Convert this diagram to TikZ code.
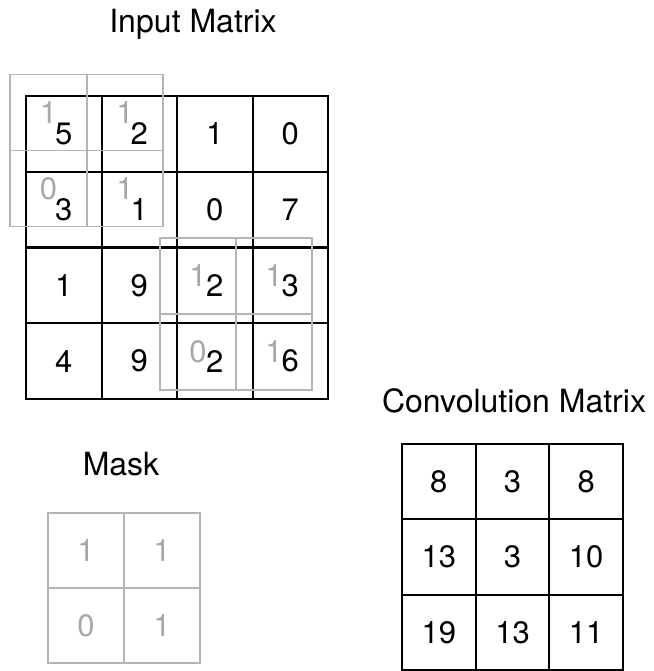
\documentclass[tikz,border=0pt]{standalone}
\usepackage{fontspec}
\setmainfont{TeX Gyre Heros}
\definecolor{maskgray}{HTML}{B5B5B5}
\definecolor{digitgray}{HTML}{A8A8A8}
\begin{document}
\begin{tikzpicture}[x=1pt,y=-1pt,
  digits/.style={font=\fontsize{31}{31}\selectfont},
  cell/.style={draw=black, line width=2pt, minimum width=75.5pt, minimum height=75.75pt, inner sep=0pt, digits, text=black},
  ccell/.style={draw=black, line width=2pt, minimum width=73.7pt, minimum height=75.3pt, inner sep=0pt, digits, text=black},
  wcell/.style={draw=maskgray, line width=1.9pt, minimum width=76.5pt, minimum height=76pt, inner sep=0pt, digits, text=digitgray},
  mcell/.style={draw=maskgray, line width=1.9pt, minimum width=76pt, minimum height=75pt, inner sep=0pt, digits, text=digitgray},
  title/.style={anchor=base, inner sep=0pt, font=\fontsize{32}{32}\selectfont}]
\useasboundingbox (0,0) rectangle (653,671);

% titles
\node[title] (tin) at (193,33) {Input Matrix};
\node[title] (tconv) at (514,412) {Convolution Matrix};
\node[title] (tmask) at (121,475) {Mask};

% input matrix
\node[cell] (a11) at (63.75,133.9) {5};
\node[cell] (a12) at (139.25,133.9) {2};
\node[cell] (a13) at (214.75,133.9) {1};
\node[cell] (a14) at (290.25,133.9) {0};
\node[cell] (a21) at (63.75,209.6) {3};
\node[cell] (a22) at (139.25,209.6) {1};
\node[cell] (a23) at (214.75,209.6) {0};
\node[cell] (a24) at (290.25,209.6) {7};
\node[cell] (a31) at (63.75,285.4) {1};
\node[cell] (a32) at (139.25,285.4) {9};
\node[cell] (a33) at (214.75,285.4) {2};
\node[cell] (a34) at (290.25,285.4) {3};
\node[cell] (a41) at (63.75,361.1) {4};
\node[cell] (a42) at (139.25,361.1) {9};
\node[cell] (a43) at (214.75,361.1) {2};
\node[cell] (a44) at (290.25,361.1) {6};

% top-left window
\node[wcell] (w11) at (48.5,112.5) {1};
\node[wcell] (w12) at (125,112.5) {1};
\node[wcell] (w21) at (48.5,188.5) {0};
\node[wcell] (w22) at (125,188.5) {1};

% bottom-right window
\node[wcell] (v11) at (198,276) {1};
\node[wcell] (v12) at (274,276) {1};
\node[wcell] (v21) at (198,352) {0};
\node[wcell] (v22) at (274,352) {1};

% mask
\node[mcell] (m11) at (86,550.5) {1};
\node[mcell] (m12) at (162,550.5) {1};
\node[mcell] (m21) at (86,625.5) {0};
\node[mcell] (m22) at (162,625.5) {1};

% convolution matrix
\node[ccell] (c11) at (438.8,481.7) {8};
\node[ccell] (c12) at (512.5,481.7) {3};
\node[ccell] (c13) at (586.2,481.7) {8};
\node[ccell] (c21) at (438.8,557) {13};
\node[ccell] (c22) at (512.5,557) {3};
\node[ccell] (c23) at (586.2,557) {10};
\node[ccell] (c31) at (438.8,632.3) {19};
\node[ccell] (c32) at (512.5,632.3) {13};
\node[ccell] (c33) at (586.2,632.3) {11};
\end{tikzpicture}
\end{document}
